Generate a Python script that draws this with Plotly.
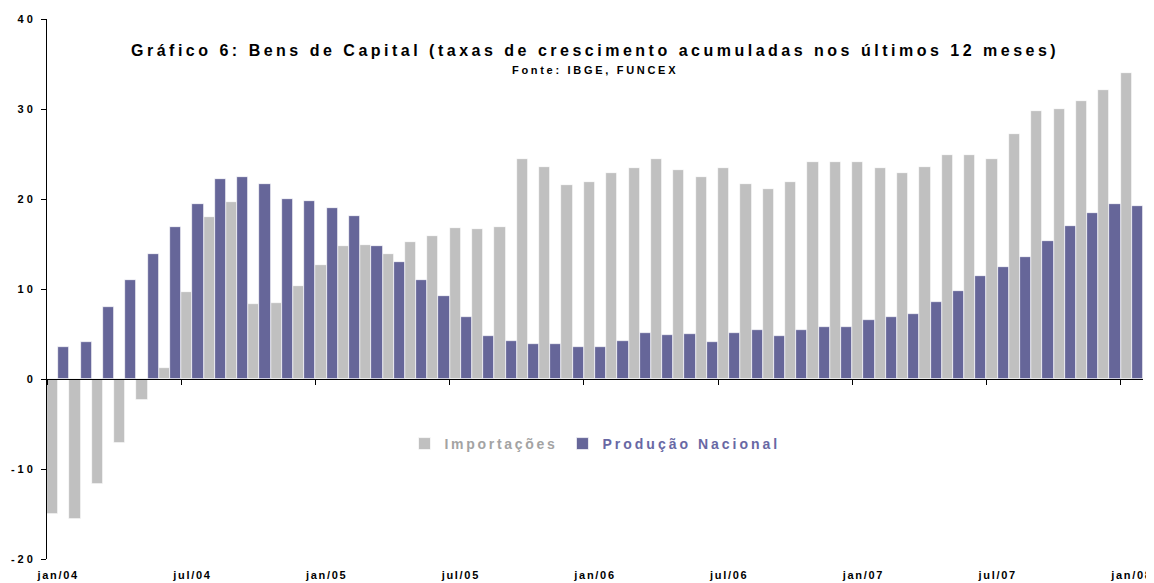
import plotly.graph_objects as go

meses = ["jan", "fev", "mar", "abr", "mai", "jun", "jul", "ago", "set", "out", "nov", "dez"]
anos = ["04", "05", "06", "07", "08"]
periodos = [f"{m}/{a}" for a in anos for m in meses][:49]

importacoes = [
    -15.0, -15.6, -11.7, -7.1, -2.3, 1.2, 9.7, 18.0, 19.7, 8.3, 8.4, 10.3,
    12.7, 14.8, 14.9, 13.9, 15.2, 15.9, 16.8, 16.7, 16.9, 24.4, 23.6, 21.6,
    21.9, 22.9, 23.4, 24.5, 23.2, 22.4, 23.4, 21.7, 21.1, 21.9, 24.1, 24.1,
    24.1, 23.4, 22.9, 23.6, 24.9, 24.9, 24.5, 27.2, 29.8, 30.0, 30.9, 32.1,
    34.0,
]
producao = [
    3.6, 4.1, 8.0, 11.0, 13.9, 16.9, 19.5, 22.2, 22.5, 21.7, 20.0, 19.8,
    19.0, 18.1, 14.8, 13.0, 11.0, 9.2, 6.9, 4.8, 4.2, 3.9, 3.9, 3.6,
    3.6, 4.2, 5.1, 4.9, 5.0, 4.1, 5.1, 5.4, 4.8, 5.5, 5.8, 5.8,
    6.6, 6.9, 7.2, 8.6, 9.8, 11.5, 12.4, 13.6, 15.3, 17.0, 18.4, 19.5,
    19.2,
]
tick_labels = ["jan/04", "jul/04", "jan/05", "jul/05", "jan/06", "jul/06", "jan/07", "jul/07", "jan/08"]
y_ticks = [-20, -10, 0, 10, 20, 30, 40]

titulo = "Gráfico 6: Bens de Capital (taxas de crescimento acumuladas nos últimos 12 meses)"
fonte = "Fonte: IBGE, FUNCEX"

COR_IMP = "#C0C0C0"
COR_PROD = "#666699"
FAM = "Liberation Sans, Arial, sans-serif"


def sp(s, px, color=None):
    st = f"letter-spacing:{px}px"
    if color:
        st += f";color:{color}"
    return f'<span style="{st}">{s}</span>'


x = list(range(len(periodos)))
tick_idx = [periodos.index(t) for t in tick_labels]

fig = go.Figure()
fig.add_trace(go.Bar(
    x=x, y=importacoes, name=sp("Importações", 2.7, "#A3A3A3"),
    marker=dict(color=COR_IMP, line=dict(color="white", width=0.7)),
    customdata=periodos, hovertemplate="%{customdata}: %{y}<extra>Importações</extra>",
))
fig.add_trace(go.Bar(
    x=x, y=producao, name=sp("Produção Nacional", 3.0, "#6868A4"),
    marker=dict(color=COR_PROD, line=dict(color="white", width=0.7)),
    customdata=periodos, hovertemplate="%{customdata}: %{y}<extra>Produção Nacional</extra>",
))
# empty trace to carry the bottom label axis
fig.add_trace(go.Scatter(x=[], y=[], xaxis="x2", showlegend=False, hoverinfo="skip"))

# the page body adds an 8px offset, so the figure is sized to fit the window
fig.update_layout(
    width=1146, height=575,
    margin=dict(l=39, r=11, t=11, b=24, autoexpand=False),
    paper_bgcolor="white", plot_bgcolor="white",
    barmode="group", bargap=0, bargroupgap=0,
    font=dict(family=FAM, color="black", weight="bold"),
    xaxis=dict(
        range=[-0.5, len(periodos) - 0.5], anchor="free", position=1 / 3,
        showline=True, linecolor="black", linewidth=1,
        ticks="outside", ticklen=5, tickcolor="black", tickwidth=1,
        tickvals=[i - 0.5 for i in tick_idx], showticklabels=False,
        showgrid=False, zeroline=False, automargin=False,
    ),
    xaxis2=dict(
        range=[-0.5, len(periodos) - 0.5], overlaying="x", anchor="y", side="bottom",
        tickvals=tick_idx, ticktext=[sp(t, 1.7) for t in tick_labels],
        ticks="outside", ticklen=6, tickcolor="rgba(0,0,0,0)",
        tickfont=dict(family=FAM, size=11, color="black", weight="bold"),
        showline=False, showgrid=False, zeroline=False, automargin=False,
    ),
    yaxis=dict(
        range=[-20, 40], tickvals=y_ticks, ticktext=[sp(str(v), 3) for v in y_ticks],
        showline=True, linecolor="black", linewidth=1,
        ticks="outside", ticklen=5, tickcolor="black",
        tickfont=dict(family=FAM, size=11, color="black", weight="bold"),
        showgrid=False, zeroline=False, ticklabelstandoff=3, automargin=False,
    ),
    legend=dict(
        orientation="h", x=0.5, xanchor="center", y=0.213, yanchor="middle",
        font=dict(family=FAM, size=14, weight="bold"), bgcolor="rgba(0,0,0,0)",
        traceorder="normal", itemwidth=30,
    ),
    showlegend=True,
    annotations=[
        dict(text=sp(titulo, 3.5), xref="paper", yref="paper", x=0.5, y=0.941,
             xanchor="center", yanchor="middle", showarrow=False,
             font=dict(family=FAM, size=16, color="black", weight="bold")),
        dict(text=sp(fonte, 2.7), xref="paper", yref="paper", x=0.5, y=0.906,
             xanchor="center", yanchor="middle", showarrow=False,
             font=dict(family=FAM, size=11, color="black", weight="bold")),
    ],
)

fig.write_html("out.html")
